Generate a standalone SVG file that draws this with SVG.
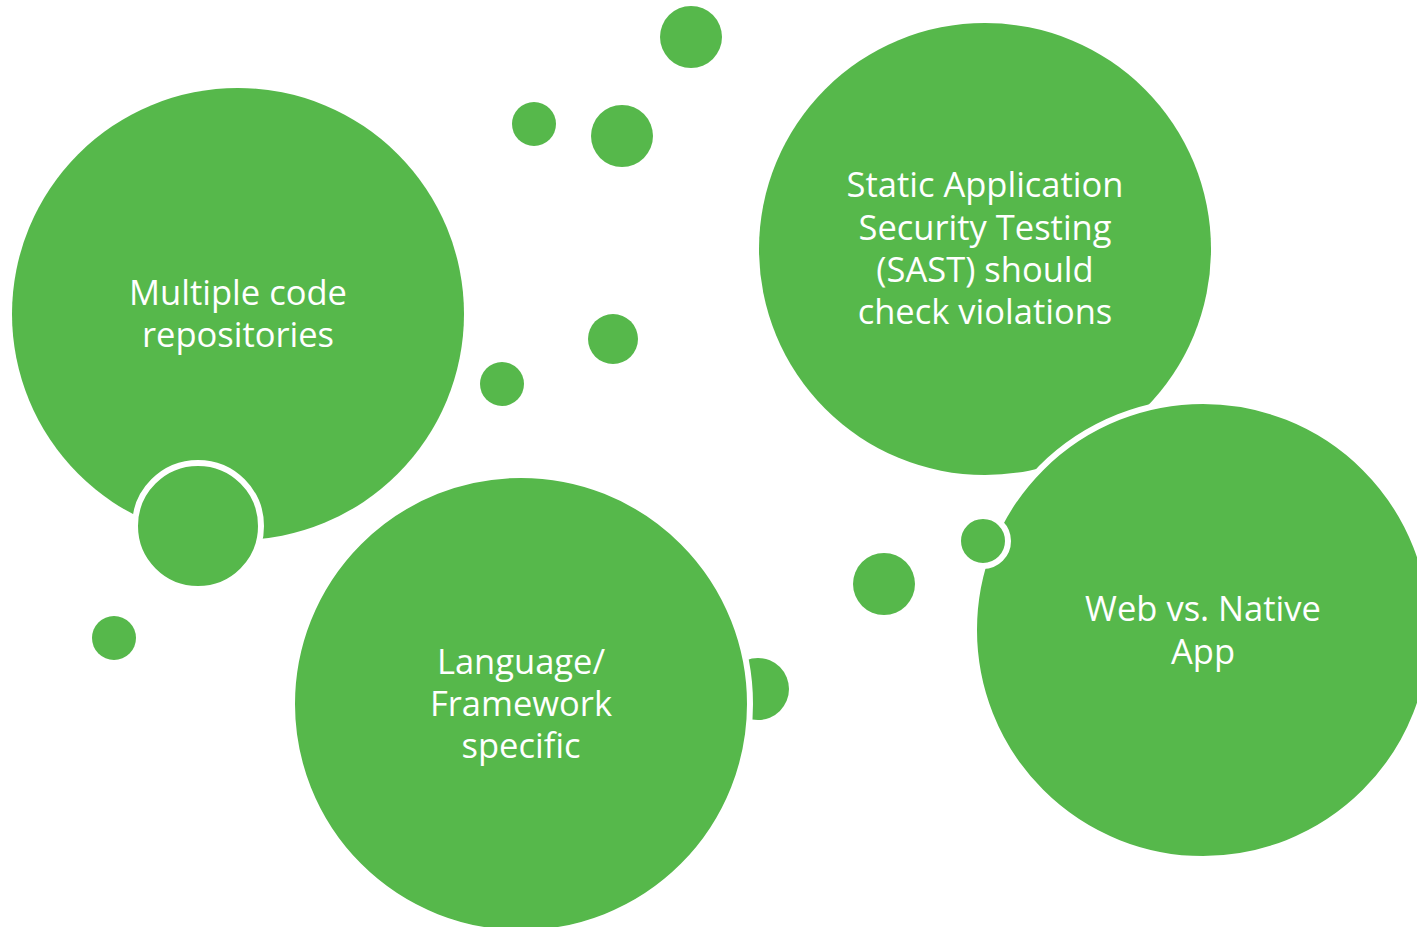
<svg xmlns="http://www.w3.org/2000/svg" width="1417" height="927" viewBox="0 0 1417 927">
<style>
.c{fill:#56B84B;}
.s{fill:#56B84B;stroke:#FFFFFF;stroke-width:6;}
.t{fill:#FFFFFF;font-family:"Open Sans","Noto Sans",sans-serif;font-size:34.5px;text-anchor:middle;}
</style>
<rect width="1417" height="927" fill="#FFFFFF"/>
<g id="dots">
<circle class="c" cx="691" cy="37" r="31"/>
<circle class="c" cx="534" cy="124" r="22"/>
<circle class="c" cx="622" cy="136" r="31"/>
<circle class="c" cx="613" cy="339" r="25"/>
<circle class="c" cx="502" cy="384" r="22"/>
<circle class="c" cx="114" cy="638" r="22"/>
<circle class="c" cx="884" cy="584" r="31"/>
<circle class="c" cx="758" cy="689" r="31"/>
</g>
<g id="node-repos">
<circle class="c" cx="238" cy="314" r="226"/>
<text class="t" x="238" y="305">Multiple code</text>
<text class="t" x="238" y="347">repositories</text>
</g>
<g id="dot-repos">
<circle class="s" cx="198" cy="526" r="63"/>
</g>
<g id="node-lang">
<circle class="s" cx="521" cy="704" r="229"/>
<text class="t" x="521" y="674">Language/</text>
<text class="t" x="521" y="716">Framework</text>
<text class="t" x="521" y="758">specific</text>
</g>
<g id="node-sast">
<circle class="c" cx="985" cy="249" r="226"/>
<text class="t" x="985" y="197">Static Application</text>
<text class="t" x="985" y="240">Security Testing</text>
<text class="t" x="985" y="282">(SAST) should</text>
<text class="t" x="985" y="324">check violations</text>
</g>
<g id="node-web">
<circle class="s" cx="1203" cy="630" r="229"/>
<text class="t" x="1203" y="621">Web vs. Native</text>
<text class="t" x="1203" y="664">App</text>
</g>
<g id="dot-web">
<circle class="s" cx="983" cy="541" r="25"/>
</g>
<g id="connectors"></g>
</svg>
